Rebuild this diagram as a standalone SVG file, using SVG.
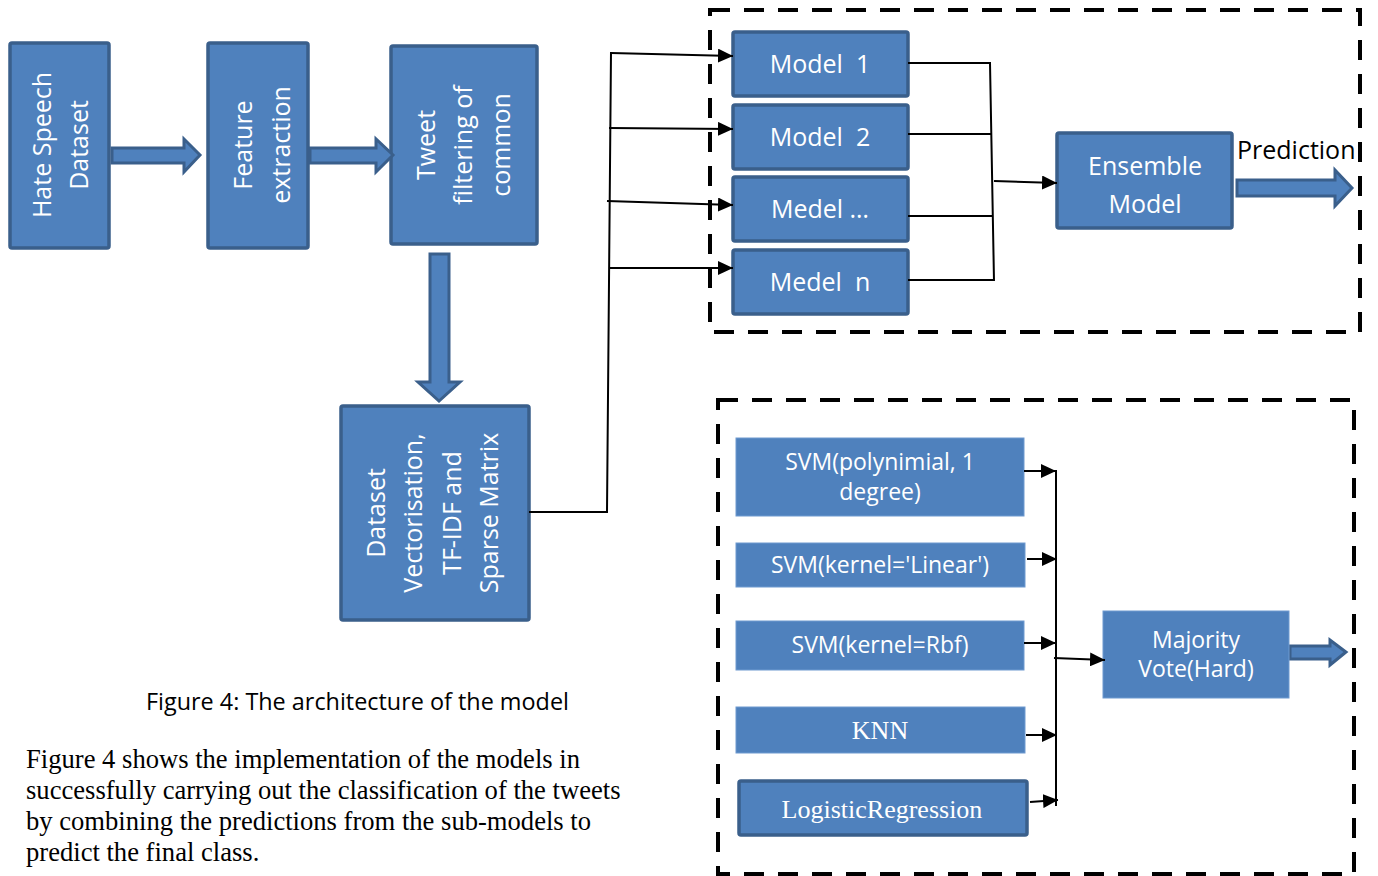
<svg xmlns="http://www.w3.org/2000/svg" width="1378" height="876" viewBox="0 0 1378 876">
<defs>
<style>
.box{fill:#4F81BD;stroke:#3A5F8B;stroke-width:3.5}
.flat{fill:#4F81BD;stroke:#6F9AD0;stroke-width:1}
.barrow{fill:#4F81BD;stroke:#3A5F8B;stroke-width:3;stroke-linejoin:miter}
.t{font-family:"Open Sans","Noto Sans",sans-serif;fill:#fff;font-size:25px;text-anchor:middle}
.ts{font-family:"Open Sans","Noto Sans",sans-serif;fill:#fff;font-size:23px;text-anchor:middle}
.tr{font-family:"Liberation Serif","Times New Roman",serif;fill:#fff;font-size:26px;text-anchor:middle}
.ln{fill:none;stroke:#000;stroke-width:2}
.dash{fill:none;stroke:#000;stroke-width:4;stroke-dasharray:20 14}
</style>
<marker id="ah" markerUnits="userSpaceOnUse" markerWidth="16" markerHeight="14" refX="15" refY="7" orient="auto"><path d="M0,0 L15,7 L0,14 z" fill="#000"/></marker>
</defs>
<rect width="1378" height="876" fill="#fff"/>

<rect class="dash" x="710" y="10" width="650" height="322"/>
<rect class="dash" x="718" y="400" width="636" height="474"/>

<g id="hate-speech-dataset">
<rect class="box" x="10" y="43" width="99" height="205" rx="2"/>
<g transform="translate(58,145) rotate(-90)"><text class="t" y="-7">Hate Speech</text><text class="t" y="30">Dataset</text></g>
</g>
<g id="feature-extraction">
<rect class="box" x="208" y="43" width="100" height="205" rx="2"/>
<g transform="translate(258,145) rotate(-90)"><text class="t" y="-6">Feature</text><text class="t" y="32">extraction</text></g>
</g>
<g id="tweet-filtering">
<rect class="box" x="391" y="46" width="146" height="198" rx="2"/>
<g transform="translate(464,145) rotate(-90)"><text class="t" y="-29">Tweet</text><text class="t" y="8">filtering of</text><text class="t" y="46">common</text></g>
</g>
<g id="vectorisation">
<rect class="box" x="341" y="406" width="188" height="214" rx="2"/>
<g transform="translate(435,513) rotate(-90)"><text class="t" y="-50">Dataset</text><text class="t" y="-13">Vectorisation,</text><text class="t" y="26">TF-IDF and</text><text class="t" y="63">Sparse Matrix</text></g>
</g>

<g id="block-arrows">
<path class="barrow" d="M112,148 L184,148 L184,139 L200,155 L184,172 L184,163 L112,163 z"/>
<path class="barrow" d="M310,148 L376,148 L376,139 L393,155 L376,172 L376,163 L310,163 z"/>
<path class="barrow" d="M430,254 L449,254 L449,382 L460,382 L439,401 L418,382 L430,382 z"/>
<path class="barrow" d="M1237,180 L1335,180 L1335,170 L1352,188 L1335,206 L1335,196 L1237,196 z"/>
<path class="barrow" d="M1290,646 L1330,646 L1330,640 L1346,652 L1330,665 L1330,659 L1290,659 z"/>
</g>

<g id="model-1"><rect class="box" x="733" y="32" width="175" height="64" rx="2"/><text class="t" x="820" y="73">Model&#160; 1</text></g>
<g id="model-2"><rect class="box" x="733" y="105" width="175" height="64" rx="2"/><text class="t" x="820" y="146">Model&#160; 2</text></g>
<g id="model-dots"><rect class="box" x="733" y="177" width="175" height="64" rx="2"/><text class="t" x="820" y="218">Medel …</text></g>
<g id="model-n"><rect class="box" x="733" y="250" width="175" height="64" rx="2"/><text class="t" x="820" y="291">Medel&#160; n</text></g>
<g id="ensemble"><rect class="box" x="1057" y="133" width="175" height="95" rx="2"/><text class="t" x="1145" y="175">Ensemble</text><text class="t" x="1145" y="213">Model</text></g>
<g id="prediction"><text x="1237" y="159" font-family="Open Sans, Noto Sans, sans-serif" font-size="25" fill="#000">Prediction</text></g>

<g id="svm-poly"><rect class="flat" x="736" y="438" width="288" height="78"/><text class="ts" x="880" y="470">SVM(polynimial, 1</text><text class="ts" x="880" y="500">degree)</text></g>
<g id="svm-linear"><rect class="flat" x="736" y="543" width="289" height="44"/><text class="ts" x="880" y="573">SVM(kernel='Linear')</text></g>
<g id="svm-rbf"><rect class="flat" x="736" y="621" width="288" height="49"/><text class="ts" x="880" y="653">SVM(kernel=Rbf)</text></g>
<g id="knn"><rect class="flat" x="736" y="707" width="289" height="46"/><text class="tr" x="880" y="739">KNN</text></g>
<g id="logreg"><rect class="box" x="739" y="781" width="288" height="54" rx="2"/><text class="tr" x="882" y="818">LogisticRegression</text></g>
<g id="majority"><rect class="flat" x="1103" y="611" width="186" height="87"/><text class="ts" x="1196" y="648">Majority</text><text class="ts" x="1196" y="677">Vote(Hard)</text></g>

<g id="connectors">
<path class="ln" d="M529,512 L607,512 L611,52"/>
<path class="ln" d="M611,53 L733,56" marker-end="url(#ah)"/>
<path class="ln" d="M609,128 L733,129" marker-end="url(#ah)"/>
<path class="ln" d="M607,201 L733,205" marker-end="url(#ah)"/>
<path class="ln" d="M609,268 L733,268" marker-end="url(#ah)"/>
<path class="ln" d="M908,63 L991,63 M908,134 L991,134 M908,216 L993,216 M908,280 L994,280 M990,63 L994,281"/>
<path class="ln" d="M994,181 L1057,183" marker-end="url(#ah)"/>
<path class="ln" d="M1056,470 L1056,806"/>
<path class="ln" d="M1024,471 L1056,471" marker-end="url(#ah)"/>
<path class="ln" d="M1027,559 L1057,559" marker-end="url(#ah)"/>
<path class="ln" d="M1024,643 L1056,643" marker-end="url(#ah)"/>
<path class="ln" d="M1026,735 L1057,735" marker-end="url(#ah)"/>
<path class="ln" d="M1030,802 L1058,800" marker-end="url(#ah)"/>
<path class="ln" d="M1054,658 L1105,660" marker-end="url(#ah)"/>
</g>

<g id="caption">
<text x="146" y="710" font-family="Open Sans, Noto Sans, sans-serif" font-size="23.4" fill="#000">Figure 4: The architecture of the model</text>
<g font-family="Liberation Serif, Times New Roman, serif" font-size="26.6" fill="#000">
<text x="26" y="768">Figure 4 shows the implementation of the models in</text>
<text x="26" y="799">successfully carrying out the classification of the tweets</text>
<text x="26" y="830">by combining the predictions from the sub-models to</text>
<text x="26" y="861">predict the final class.</text>
</g>
</g>
</svg>
